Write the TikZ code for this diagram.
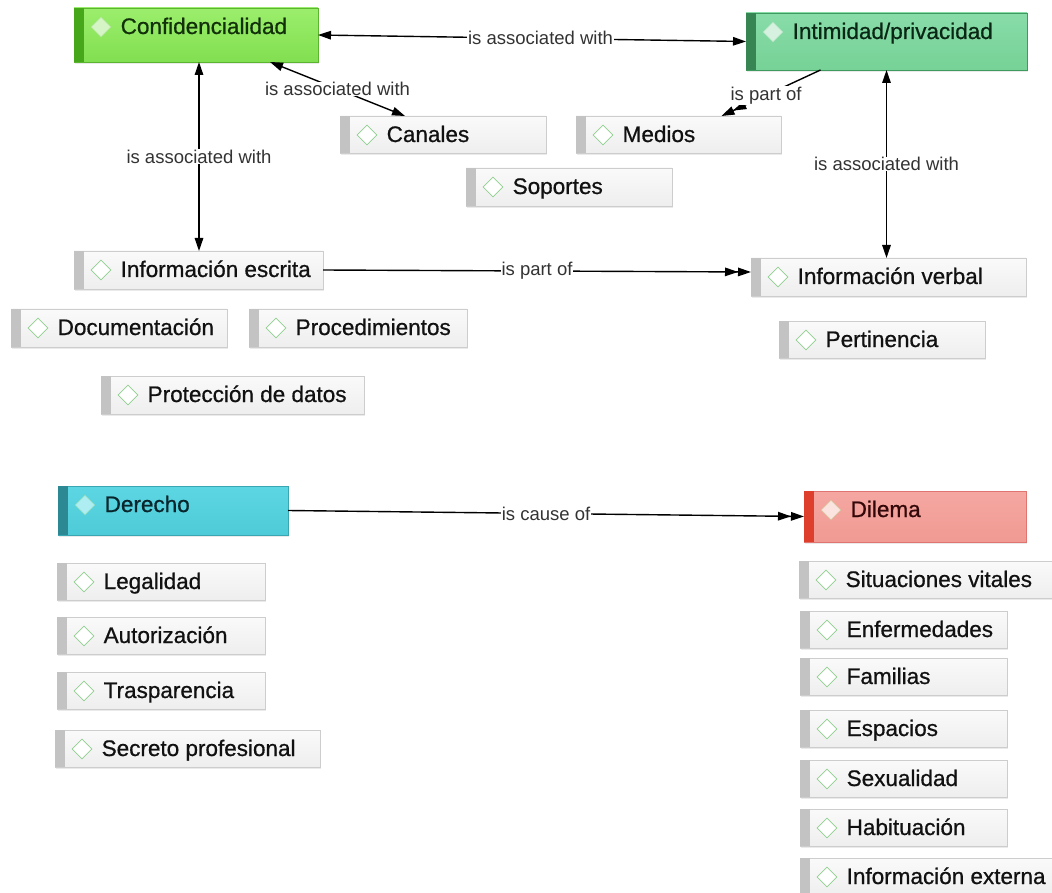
\documentclass[tikz,border=0pt]{standalone}
\usepackage{fontspec}
\setmainfont{Liberation Sans}
% a slightly heavier cut for the concept names
\newfontfamily\conceptfont[FakeBold=0.7]{Liberation Sans}
\usetikzlibrary{arrows.meta,shapes.geometric,shadows}

% colour schemes of the concept boxes
\definecolor{graytop}{HTML}{FAFAFA}\definecolor{graybot}{HTML}{EEEEEE}
\definecolor{grayedge}{HTML}{CDCDCD}\definecolor{graystripe}{HTML}{C3C3C3}
\definecolor{graymark}{HTML}{8FCF8F}\definecolor{graytxt}{HTML}{111111}

\definecolor{limetop}{HTML}{9BEE6C}\definecolor{limebot}{HTML}{82DF50}
\definecolor{limeedge}{HTML}{5CB52E}\definecolor{limestripe}{HTML}{47A71A}
\definecolor{limemarkfill}{HTML}{D6F5C6}\definecolor{limemark}{HTML}{B2E79A}
\definecolor{limetxt}{HTML}{12300A}

\definecolor{minttop}{HTML}{88DCA8}\definecolor{mintbot}{HTML}{76D296}
\definecolor{mintedge}{HTML}{3F9A60}\definecolor{mintstripe}{HTML}{378552}
\definecolor{mintmarkfill}{HTML}{D6F1DF}\definecolor{mintmark}{HTML}{B0E2C0}
\definecolor{minttxt}{HTML}{0A2614}

\definecolor{cyantop}{HTML}{5CD6E2}\definecolor{cyanbot}{HTML}{4ECBD8}
\definecolor{cyanedge}{HTML}{3AA6B2}\definecolor{cyanstripe}{HTML}{2C8893}
\definecolor{cyanmarkfill}{HTML}{AEEDF2}\definecolor{cyanmark}{HTML}{8CDCC4}
\definecolor{cyantxt}{HTML}{08262C}

\definecolor{salmtop}{HTML}{F5A7A1}\definecolor{salmbot}{HTML}{F09A93}
\definecolor{salmedge}{HTML}{E07470}\definecolor{salmstripe}{HTML}{DD3F2C}
\definecolor{salmmarkfill}{HTML}{FBE4E0}\definecolor{salmmark}{HTML}{D9C29E}
\definecolor{salmtxt}{HTML}{330808}

\tikzset{
  base box/.style={rectangle, inner sep=0pt, outer sep=0pt, line width=0.8pt,
    drop shadow={shadow xshift=0.6pt, shadow yshift=-1.8pt, opacity=0.16}},
  base mark/.style={diamond, inner sep=0pt, minimum size=20pt, line width=0.8pt},
  base text/.style={anchor=base west, inner sep=0pt,
    font=\conceptfont\fontsize{22.5}{27}\selectfont},
  % one set of keys per colour scheme
  scheme/.style args={#1}{
    #1 box/.style={base box, draw=#1edge, top color=#1top, bottom color=#1bot},
    #1 stripe/.style={fill=#1stripe},
    #1 text/.style={base text, text=#1txt}},
  scheme/.list={gray,lime,mint,cyan,salm},
  gray mark/.style={base mark, draw=graymark, fill=white},
  lime mark/.style={base mark, draw=limemark, fill=limemarkfill},
  mint mark/.style={base mark, draw=mintmark, fill=mintmarkfill},
  cyan mark/.style={base mark, draw=cyanmark, fill=cyanmarkfill},
  salm mark/.style={base mark, draw=salmmark, fill=salmmarkfill},
  % connectors
  link/.style={draw=black, line width=1.4pt},
  both/.style={{Triangle[length=13pt,width=8.5pt]}-{Triangle[length=13pt,width=8.5pt]}},
  twice/.style={-{Triangle[length=13pt,width=8.5pt]Triangle[length=13pt,width=8.5pt]}},
  tag/.style={fill=white, inner sep=0.6pt, text=black!80,
    font=\fontsize{18.5}{22}\selectfont},
}

% concept box: name, scheme, left, top, right, bottom, text
\newcommand\conceptbox[7]{%
  \node[#2 box, minimum width={#5-#3}, minimum height={#6-#4}]
    (#1) at ({(#3+#5)/2},{(#4+#6)/2}) {};
  \fill[#2 stripe] (#1.north west) rectangle ([xshift=10pt]#1.south west);
  \node[#2 mark] (#1-m) at ([xshift=27pt,yshift=-19pt]#1.north west) {};
  \node[#2 text] (#1-t) at ([xshift=46.5pt,yshift=-26pt]#1.north west) {#7};
}

\begin{document}
\begin{tikzpicture}[x=1pt,y=-1pt]
  \fill[white] (0,0) rectangle (1052,893);
  \useasboundingbox (0,0) rectangle (1052,893);

  % upper group
  \conceptbox{conf}{lime}{74}{8}{318}{62}{Confidencialidad}
  \conceptbox{intim}{mint}{746}{13}{1027}{70}{Intimidad/privacidad}
  \conceptbox{canal}{gray}{340}{116}{546}{153}{Canales}
  \conceptbox{medios}{gray}{576}{116}{781}{153}{Medios}
  \conceptbox{soport}{gray}{466}{168}{672}{206}{Soportes}
  \conceptbox{infesc}{gray}{74}{251}{323}{289}{Información escrita}
  \conceptbox{docum}{gray}{11}{309}{227}{347}{Documentación}
  \conceptbox{proced}{gray}{249}{309}{467}{347}{Procedimientos}
  \conceptbox{protec}{gray}{101}{376}{364}{414}{Protección de datos}
  \conceptbox{infverb}{gray}{751}{258}{1026}{296}{Información verbal}
  \conceptbox{pertin}{gray}{779}{321}{985}{358}{Pertinencia}

  % lower group
  \conceptbox{der}{cyan}{58}{486}{288}{535}{Derecho}
  \conceptbox{dil}{salm}{804}{491}{1026}{542}{Dilema}
  \conceptbox{legal}{gray}{57}{563}{265}{600}{Legalidad}
  \conceptbox{autor}{gray}{57}{617}{265}{654}{Autorización}
  \conceptbox{trasp}{gray}{57}{672}{265}{709}{Trasparencia}
  \conceptbox{secreto}{gray}{55}{730}{320}{767}{Secreto profesional}
  \conceptbox{sitvit}{gray}{799}{561}{1058}{598}{Situaciones vitales}
  \conceptbox{enferm}{gray}{800}{611}{1007}{648}{Enfermedades}
  \conceptbox{famil}{gray}{800}{658}{1007}{695}{Familias}
  \conceptbox{espac}{gray}{800}{710}{1007}{747}{Espacios}
  \conceptbox{sexual}{gray}{800}{760}{1007}{797}{Sexualidad}
  \conceptbox{habit}{gray}{800}{809}{1007}{846}{Habituación}
  \conceptbox{infext}{gray}{800}{858}{1058}{897}{Información externa}

  % connectors
  \draw[link, both] (conf.east) -- node[tag, pos=0.52] {is associated with} (intim.west);
  \draw[link, both] ([xshift=-48pt]conf.south east)
    -- node[tag] {is associated with} ([xshift=-38pt]canal.north);
  \coordinate (confdown) at ([xshift=3pt]conf.south);
  \draw[link, both] (confdown) -- node[tag] {is associated with} (confdown |- infesc.north);
  \draw[link, twice] ([xshift=-66pt]intim.south)
    -- node[tag, pos=0.55] {is part of} ([xshift=43pt]medios.north);
  \draw[link, both] (intim.south) -- node[tag] {is associated with} (intim.south |- infverb.north);
  \draw[link, twice] (infesc.east) -- node[tag] {is part of} ([yshift=5pt]infverb.west);
  \draw[link, twice] (der.east) -- node[tag] {is cause of} (dil.west);
\end{tikzpicture}
\end{document}
